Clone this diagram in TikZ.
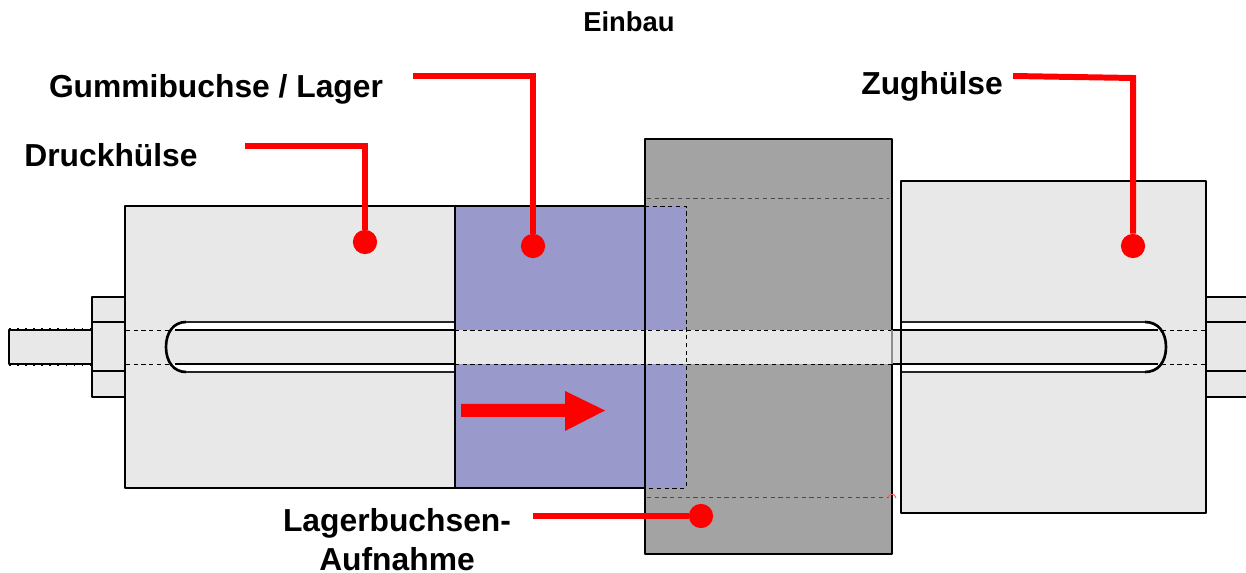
\documentclass[tikz,border=0pt]{standalone}
\usepackage{fontspec}
\setmainfont{Liberation Sans}
\definecolor{sleevegray}{HTML}{E8E8E8}
\definecolor{housinggray}{HTML}{A3A3A3}
\definecolor{bushblue}{HTML}{9999CC}
\begin{document}
\begin{tikzpicture}[x=0.02cm,y=-0.02cm,
    part/.style={draw=black,line width=1.1pt,line join=round},
    edge/.style={draw=black,line width=1.1pt},
    thinedge/.style={draw=black!85,line width=0.9pt},
    slotend/.style={draw=black,line width=1.5pt},
    hidden/.style={draw=black,line width=0.55pt,dash pattern=on 2.4pt off 2pt},
    thread/.style={draw=black,line width=1pt,dash pattern=on 1pt off 3.6pt},
    leader/.style={draw=red,line width=3.4pt},
    dot/.style={circle,fill=red,inner sep=0pt,minimum size=13.8pt},
    label/.style={font=\bfseries\fontsize{18.1}{22.1}\selectfont,align=center,text=black,inner sep=0pt}]
    \useasboundingbox (0,0) rectangle (1246,573);
    % blocks
    \path[part,fill=housinggray] (645,139) rectangle (892,554);
    \path[part,fill=sleevegray] (125,206) rectangle (455,488);
    \path[fill=bushblue] (455,206) rectangle (686,488);
    \path[part,fill=sleevegray] (901,181) rectangle (1206,513);
    % nuts and threaded ends
    \path[part,fill=sleevegray] (92,297) rectangle (125,397);
    \path[part,fill=sleevegray] (1206,297) rectangle (1250,397);
    \path[part,fill=sleevegray] (9,330) rectangle (92,364);
    \draw[thread] (9,329) -- (92,329);
    \draw[thread] (9,365) -- (92,365);
    \draw[edge] (92,322) -- (125,322) (92,371) -- (125,371);
    \draw[edge] (1206,322) -- (1250,322) (1206,371) -- (1250,371);
    % slots
    \path[fill=white] (455,322) -- (186,322) .. controls (174,322) and (166,332) .. (166,347) .. controls (166,362) and (174,372) .. (186,372) -- (455,372) -- cycle;
    \path[fill=white] (901,322) -- (1145,322) .. controls (1158,322) and (1166,332) .. (1166,347) .. controls (1166,362) and (1158,372) .. (1145,372) -- (901,372) -- cycle;
    % rod
    \path[fill=sleevegray] (126,330) rectangle (1205,364);
    \draw[thinedge] (455,322) -- (186,322) (186,372) -- (455,372);
    \draw[thinedge] (901,322) -- (1145,322) (901,372) -- (1145,372);
    \draw[slotend] (186,322) .. controls (174,322) and (166,332) .. (166,347) .. controls (166,362) and (174,372) .. (186,372);
    \draw[slotend] (1145,322) .. controls (1158,322) and (1166,332) .. (1166,347) .. controls (1166,362) and (1158,372) .. (1145,372);
    \draw[edge] (175,330) -- (455,330) (175,364) -- (455,364);
    \draw[edge] (892,330) -- (1158,330) (892,364) -- (1158,364);
    \draw[hidden] (126,330) -- (172,330) (126,364) -- (172,364);
    \draw[hidden] (1162,330) -- (1206,330) (1162,364) -- (1206,364);
    \draw[hidden] (455,330) -- (892,330) (455,364) -- (892,364);
    % bush outline and housing edges over the rod
    \draw[edge] (645,206) -- (455,206) -- (455,488) -- (645,488);
    \draw[hidden] (645,206) -- (686,206) -- (686,488) -- (645,488);
    \draw[edge] (645,139) -- (645,554);
    \draw[edge] (901,181) -- (901,513) (1206,181) -- (1206,513) (125,206) -- (125,488);
    \draw[hidden,draw=black!70] (647,198) -- (889,198) (647,497) -- (889,497);
    \draw[draw=black!45,line width=0.6pt] (892,330) -- (892,364);
    \draw[draw=red!70,line width=0.5pt] (888,498) .. controls (889,493) and (895,493) .. (896,498);
    % movement arrow
    \fill[red] (461,404) -- (565,404) -- (565,391) -- (605,410.5) -- (565,431) -- (565,417) -- (461,417) -- cycle;
    % labels
    \node[label,font=\bfseries\fontsize{15.6}{19}\selectfont] (einbau) at (629,22) {Einbau};
    \node[label] (gummi) at (216,89) {Gummibuchse / Lager};
    \node[label] (druck) at (111,155) {Druckhülse};
    \node[label] (zug) at (932,86) {Zughülse};
    \node[label] (aufnahme) at (397,540) {Lagerbuchsen-\\Aufnahme};
    % leaders
    \node[dot] (druckdot) at (365,242) {};
    \node[dot] (gummidot) at (533,246) {};
    \node[dot] (zugdot) at (1133,246) {};
    \node[dot] (aufnahmedot) at (701,516) {};
    \coordinate (druckstart) at (245,146);
    \coordinate (gummistart) at (413,76);
    \coordinate (zugstart) at (1013,76);
    \coordinate (zugknee) at (1133,78);
    \coordinate (aufnahmestart) at (533,516);
    \draw[leader] (druckstart) -| (druckdot);
    \draw[leader] (gummistart) -| (gummidot);
    \draw[leader] (zugstart) -- (zugknee) -- (zugdot);
    \draw[leader] (aufnahmestart) -- (aufnahmedot);
\end{tikzpicture}
\end{document}
